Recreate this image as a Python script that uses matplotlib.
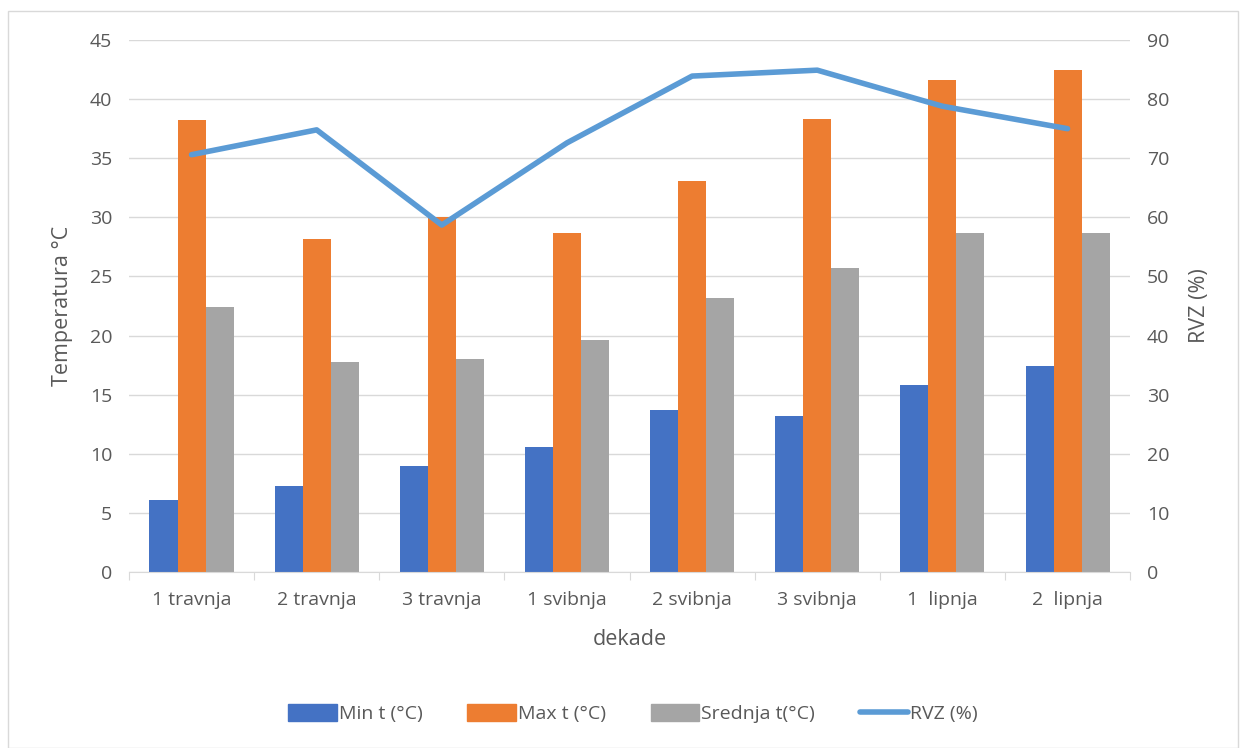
import matplotlib
matplotlib.use("Agg")
import matplotlib.pyplot as plt
import numpy as np
from matplotlib.patches import Rectangle
from matplotlib.lines import Line2D
from matplotlib.patches import Patch

categories = ["1 travnja", "2 travnja", "3 travnja", "1 svibnja", "2 svibnja", "3 svibnja", "1  lipnja", "2  lipnja"]
min_t = [6.1, 7.3, 9.0, 10.6, 13.7, 13.2, 15.8, 17.4]
max_t = [38.2, 28.2, 30.0, 28.7, 33.1, 38.3, 41.6, 42.5]
mean_t = [22.4, 17.8, 18.0, 19.6, 23.2, 25.7, 28.7, 28.7]
rvz = [70.6, 74.8, 58.7, 72.6, 83.9, 84.9, 78.8, 75.0]

plt.rcParams['font.family'] = ['Open Sans', 'DejaVu Sans']
tc = '#595959'

fig = plt.figure(figsize=(12.46, 7.48), dpi=100)
ax = fig.add_axes([0.1035, 0.2353, 0.8035, 0.7112])
ax2 = ax.twinx()

x = np.arange(len(categories))
w = 0.224
c_min, c_max, c_mean, c_rvz = '#4472C4', '#ED7D31', '#A5A5A5', '#5B9BD5'
ax.bar(x - w, min_t, w, color=c_min, zorder=2)
ax.bar(x, max_t, w, color=c_max, zorder=2)
ax.bar(x + w, mean_t, w, color=c_mean, zorder=2)
ax.set_xlim(-0.5, len(categories) - 0.5)
ax.set_ylim(0, 45)
ax.set_yticks(np.arange(0, 46, 5))
ax.grid(axis='y', color='#D9D9D9', linewidth=1, zorder=0)
ax.set_axisbelow(True)

ax2.plot(x, rvz, color=c_rvz, linewidth=4, solid_capstyle='round', zorder=3)
ax2.set_ylim(0, 90)
ax2.set_yticks(np.arange(0, 91, 10))

for a in (ax, ax2):
    for s in ['top', 'left', 'right']:
        a.spines[s].set_visible(False)
    a.spines['bottom'].set_color('#D9D9D9')
    a.tick_params(axis='y', length=0, labelsize=14, colors=tc, pad=12)
ax2.spines['bottom'].set_visible(False)

ax.set_xticks(np.arange(-0.5, len(categories), 1), minor=False)
ax.set_xticklabels([])
ax.tick_params(axis='x', which='major', length=6, color='#D9D9D9')
ax.set_xticks(x, minor=True)
ax.set_xticklabels(categories, minor=True)
ax.tick_params(axis='x', which='minor', length=0, labelsize=14, colors=tc, pad=14)

ax.set_xlabel('dekade', fontsize=15.5, color=tc, labelpad=14)
ax.set_ylabel('Temperatura °C', fontsize=15.5, color=tc, labelpad=12)
ax2.set_ylabel('RVZ (%)', fontsize=15.5, color=tc, labelpad=14)

handles = [Patch(color=c_min), Patch(color=c_max), Patch(color=c_mean),
           Line2D([0], [0], color=c_rvz, linewidth=4, solid_capstyle='round')]
labels = ['Min t (°C)', 'Max t (°C)', 'Srednja t(°C)', 'RVZ (%)']
leg = fig.legend(handles, labels, loc='center', bbox_to_anchor=(0.508, 0.046), ncol=4,
                 frameon=False, fontsize=14, handlelength=2.5, handleheight=1.0, handletextpad=0.1,
                 columnspacing=2.3, labelcolor=tc)

fig.patches.append(Rectangle((8/1246, 0.5/748), 1230/1246, 737/748, transform=fig.transFigure,
                             fill=False, edgecolor='#D9D9D9', linewidth=1))

fig.savefig('out.png', dpi=100)
